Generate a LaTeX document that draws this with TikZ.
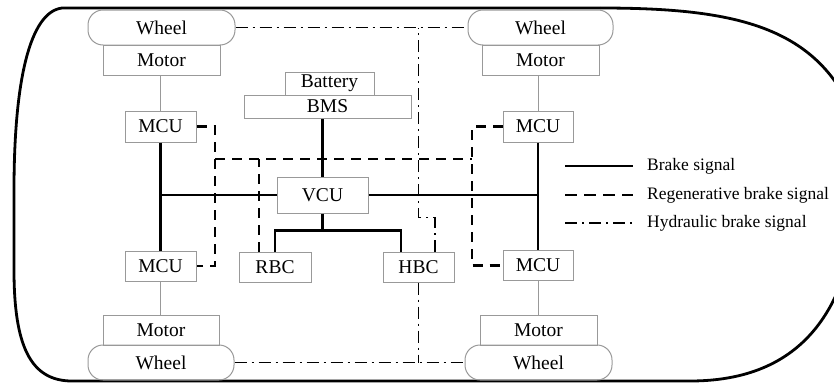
\documentclass[tikz,border=0pt]{standalone}
\usepackage{fontspec}
\setmainfont{Liberation Serif}
\begin{document}
\begin{tikzpicture}[x=1pt,y=-1pt,
  box/.style={draw=black!40, line width=1pt, inner sep=0pt, text=black,
    font=\fontsize{19.5}{22}\selectfont},
  wheel/.style={box, rounded corners=15pt, minimum height=35pt},
  brake/.style={line width=2.1pt, black},
  thin/.style={line width=1pt, black!40},
  regen/.style={line width=2.1pt, black, dash pattern=on 10pt off 7pt},
  hyd/.style={line width=1.8pt, black, dash pattern=on 12pt off 5pt on 2pt off 5pt},
  legtext/.style={anchor=west, inner sep=0pt, text=black, font=\fontsize{17.5}{20}\selectfont},
  hull/.style={line width=2.8pt, black}
]
\useasboundingbox (0,0) rectangle (834,383);
\clip (0,0) rectangle (834,383);

% hull
\draw[hull] (600,8) -- (62,8) .. controls (30,12) and (14,80) .. (14,190)
  -- (14,270) .. controls (14,345) and (30,381) .. (72,381) -- (690,381)
  .. controls (780,381) and (838,335) .. (855,230);
\draw[hull] (600,8) .. controls (720,8) and (800,22) .. (842,92);

% wheels and motors
\node[wheel, minimum width=147pt] (wtl) at (161.5,27.5) {Wheel};
\node[wheel, minimum width=146pt] (wbl) at (161,362.5) {Wheel};
\node[wheel, minimum width=145pt] (wtr) at (540.5,27.5) {Wheel};
\node[wheel, minimum width=147pt] (wbr) at (538.5,362.5) {Wheel};
\node[box, minimum width=117pt, minimum height=30pt] (mtl) at (161.5,60) {Motor};
\node[box, minimum width=116pt, minimum height=30pt] (mbl) at (161,330) {Motor};
\node[box, minimum width=117pt, minimum height=30pt] (mtr) at (540.5,60) {Motor};
\node[box, minimum width=117pt, minimum height=30pt] (mbr) at (538.5,330) {Motor};

% MCUs
\node[box, minimum width=71pt, minimum height=31pt] (ctl) at (160.5,126.5) {MCU};
\node[box, minimum width=71pt, minimum height=30pt] (cbl) at (160.5,266) {MCU};
\node[box, minimum width=70pt, minimum height=31pt] (ctr) at (538,126.5) {MCU};
\node[box, minimum width=70pt, minimum height=30pt] (cbr) at (538,265.5) {MCU};

% centre
\node[box, minimum width=89pt, minimum height=23pt] (bat) at (329.5,83.5) {Battery};
\node[box, minimum width=167pt, minimum height=23pt] (bms) at (327.5,106.5) {BMS};
\node[box, minimum width=91pt, minimum height=36pt] (vcu) at (322.5,195) {VCU};
\node[box, minimum width=72pt, minimum height=30pt] (rbc) at (275,267) {RBC};
\node[box, minimum width=71pt, minimum height=30pt] (hbc) at (418.5,267) {HBC};

% motor-MCU thin links
\draw[thin] (ctl.north) -- (ctl.north |- mtl.south);
\draw[thin] (cbl.south) -- (cbl.south |- mbl.north);
\draw[thin] (ctr.north) -- (ctr.north |- mtr.south);
\draw[thin] (cbr.south) -- (cbr.south |- mbr.north);

% brake signal
\draw[brake] (ctl.south) -- (cbl.north);
\draw[brake] (ctr.south) -- (cbr.north);
\draw[brake] (vcu.west) -- (vcu.west -| ctl.south);
\draw[brake] (vcu.east) -- (vcu.east -| ctr.south);
\draw[brake] (vcu.north) -- (vcu.north |- bms.south);
\coordinate (tree) at ([yshift=-17pt]vcu.south);
\draw[brake] (vcu.south) -- (tree);
\draw[brake] (tree) -| (rbc.north);
\draw[brake] (tree) -| ([xshift=-17.5pt]hbc.north);

% regenerative brake signal
\coordinate (rl) at (215,159);
\coordinate (rr) at (472,159);
\draw[regen] (ctl.east) -| (rl) |- (cbl.east);
\draw[regen] (ctr.west) -| (rr) |- (cbr.west);
\draw[regen] (rl) -- (rr);
\draw[regen] ([xshift=-16pt]rbc.north) -- ([xshift=-16pt]rbc.north |- rl);

% hydraulic brake signal
\draw[hyd] (wtl.east) -- (wtr.west);
\draw[hyd] (wbl.east) -- (wbr.west);
\draw[hyd] (hbc.south) -- (hbc.south |- wbl.east);
\draw[hyd] ([xshift=16.5pt]hbc.north) -- ++(0,-34) -| (hbc.north |- wtl.east);

% legend
\node[legtext] (l1) at (647,166) {Brake signal};
\node[legtext] (l2) at (647,195) {Regenerative brake signal};
\node[legtext] (l3) at (647,223) {Hydraulic brake signal};
\draw[brake] ([xshift=-82pt]l1.west) -- ([xshift=-14pt]l1.west);
\draw[regen, dash pattern=on 12pt off 7pt] ([xshift=-82pt]l2.west) -- ([xshift=-14pt]l2.west);
\draw[hyd] ([xshift=-82pt]l3.west) -- ([xshift=-14pt]l3.west);
\end{tikzpicture}
\end{document}
